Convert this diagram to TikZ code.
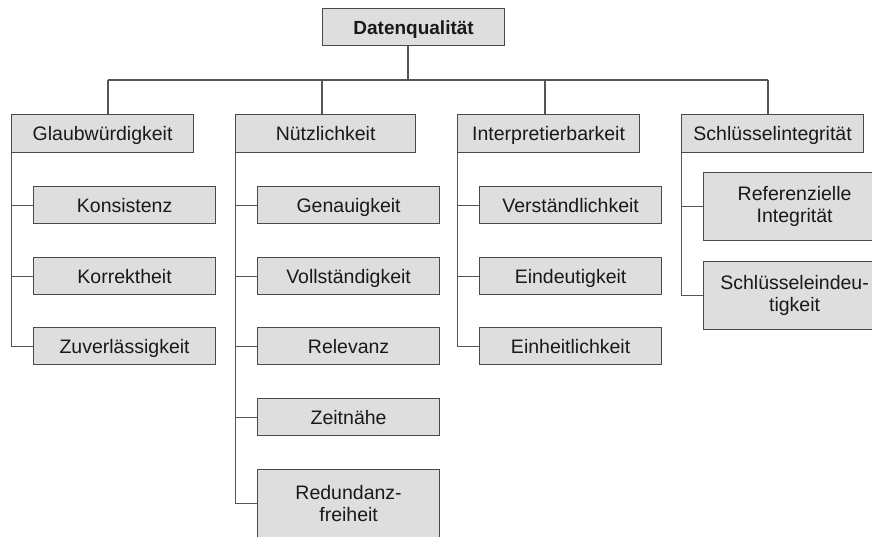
\documentclass[tikz,border=0pt]{standalone}
\usepackage{fontspec}
\setmainfont{Liberation Sans}
\begin{document}
\begin{tikzpicture}[x=1pt,y=-1pt,
  base/.style={draw=boxline,fill=boxfill,line width=1.2pt,anchor=north west,
    minimum width=182pt,inner sep=0pt,align=center,
    font=\fontsize{19.5}{21.5}\selectfont,text=black!90},
  box/.style={base,minimum height=37pt,text height=14pt,text depth=0pt},
  tall/.style={base,minimum height=68pt},
  link/.style={draw=linecol,line width=1.2pt}]
\definecolor{boxfill}{HTML}{DEDEDE}
\definecolor{boxline}{HTML}{4A4A4A}
\definecolor{linecol}{HTML}{555555}
\clip (0,0) rectangle (872,536);
\fill[white] (0,0) rectangle (872,536);

% root
\node[box,font=\fontsize{19}{21}\selectfont\bfseries] (root) at (322,8) {Datenqualität};

% categories
\node[box,minimum height=38pt] (glau) at (11,114) {Glaubwürdigkeit};
\node[box,minimum height=38pt,minimum width=180pt] (nuetz) at (235,114) {Nützlichkeit};
\node[box,minimum height=38pt] (interp) at (457,114) {Interpretierbarkeit};
\node[box,minimum height=38pt] (schl) at (681,114) {Schlüsselintegrität};

% Glaubwürdigkeit
\node[box] (kons) at (33,186) {Konsistenz};
\node[box] (korr) at (33,257) {Korrektheit};
\node[box] (zuv) at (33,327) {Zuverlässigkeit};

% Nützlichkeit
\node[box] (gen) at (257,186) {Genauigkeit};
\node[box] (voll) at (257,257) {Vollständigkeit};
\node[box] (rel) at (257,327) {Relevanz};
\node[box] (zeit) at (257,398) {Zeitnähe};
\node[tall] (red) at (257,469) {Redundanz-\\freiheit};

% Interpretierbarkeit
\node[box] (verst) at (479,186) {Verständlichkeit};
\node[box] (eind) at (479,257) {Eindeutigkeit};
\node[box] (einh) at (479,327) {Einheitlichkeit};

% Schlüsselintegrität
\node[tall] (ref) at (703,172) {Referenzielle\\Integrität};
\node[tall] (seind) at (703,261) {Schlüsseleindeu-\\tigkeit};

% top level connectors
\coordinate (rv) at (408,80);
\coordinate (gv) at (108,80);
\coordinate (nv) at (322,80);
\coordinate (iv) at (545,80);
\coordinate (sv) at (768,80);
\draw[link] (root.south -| rv) -- (rv);
\draw[link] (gv) -- (sv);
\foreach \c/\k in {gv/glau,nv/nuetz,iv/interp,sv/schl}
  \draw[link] (\c) -- (\k.north -| \c);

% branch trunks and stubs
\draw[link] ([xshift=0.6pt]glau.south west) |- (zuv.west);
\foreach \k in {kons,korr}
  \draw[link] ([xshift=0.6pt]glau.south west |- \k.west) -- (\k.west);
\draw[link] ([xshift=0.6pt]nuetz.south west) |- (red.west);
\foreach \k in {gen,voll,rel,zeit}
  \draw[link] ([xshift=0.6pt]nuetz.south west |- \k.west) -- (\k.west);
\draw[link] ([xshift=0.6pt]interp.south west) |- (einh.west);
\foreach \k in {verst,eind}
  \draw[link] ([xshift=0.6pt]interp.south west |- \k.west) -- (\k.west);
\draw[link] ([xshift=0.6pt]schl.south west) |- (seind.west);
\draw[link] ([xshift=0.6pt]schl.south west |- ref.west) -- (ref.west);
\end{tikzpicture}
\end{document}
